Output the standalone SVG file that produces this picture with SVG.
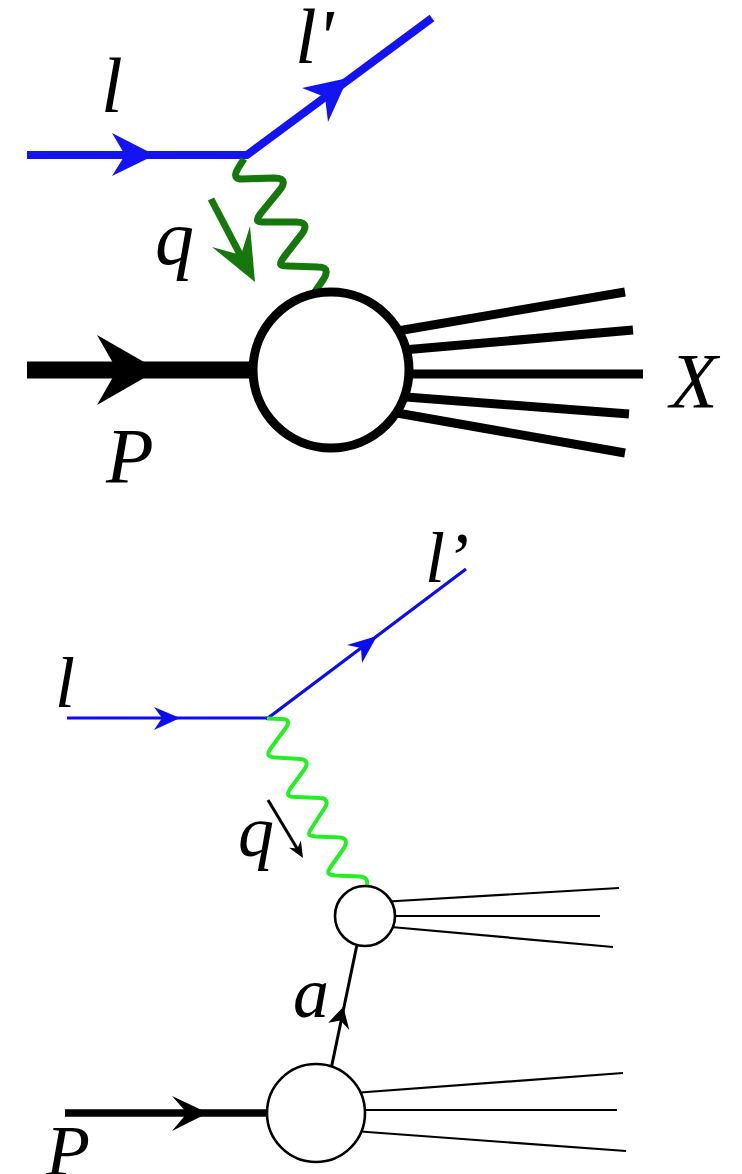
<svg xmlns="http://www.w3.org/2000/svg" width="742" height="1174" viewBox="0 0 742 1174">
<style>
.lbl{font-family:"Liberation Serif","Times New Roman",serif;font-style:italic;fill:#000}
.big{font-size:78px}
.sm{font-size:72px}
.b1{stroke:#1414f2;stroke-width:8;fill:none;stroke-linecap:butt}
.b2{stroke:#0c0cf0;stroke-width:3.2;fill:none}
.bh1{fill:#1414f2}
.bh2{fill:#0c0cf0}
.g1{stroke:#16780c;stroke-width:7;fill:none;stroke-linejoin:round}
.g2{stroke:#22f022;stroke-width:4;fill:none;stroke-linejoin:round}
.k1{stroke:#000;stroke-width:9;fill:none}
.k2{stroke:#000;stroke-width:2.2;fill:none}
.node1{fill:#fff;stroke:#000;stroke-width:9}
.node2{fill:#fff;stroke:#000;stroke-width:2.6}
</style>
<rect width="742" height="1174" fill="#fff"/>
<g id="connectors">
  <!-- top diagram -->
  <line class="b1" x1="27" y1="155" x2="247" y2="155"/>
  <polygon class="bh1" points="155,155 112,133 125,155 112,176"/>
  <polyline class="b1" points="243,155.5 247,155 432,18"/>
  <polygon class="bh1" points="348,78 302,88 325,97 328,122"/>
  <path class="g1" d="M244,159 C239,167 229,179 242,179 L274,178 C287,178 284,185 279,191 L261,213 C254,222 258,222 265,222 L296,222 C308,222 306,229 301,235 L284,257 C278,265 280,266 288,266 L318,267 C329,267 327,274 323,280 L314,293"/>
  <line class="g1" x1="211" y1="199" x2="244" y2="262" stroke-linecap="butt"/>
  <polygon fill="#16780c" points="255,282 212,247 241,255 250,226"/>
  <line stroke="#000" stroke-width="17" x1="27" y1="370" x2="255" y2="370"/>
  <polygon fill="#000" points="158,370 97,335 117,370 97,405"/>
  <line class="k1" x1="380" y1="334" x2="625" y2="292"/>
  <line class="k1" x1="380" y1="352" x2="633" y2="330"/>
  <line class="k1" x1="380" y1="374" x2="643" y2="374"/>
  <line class="k1" x1="380" y1="395" x2="629" y2="414"/>
  <line class="k1" x1="380" y1="410" x2="625" y2="453"/>
  <!-- bottom diagram -->
  <line class="b2" x1="67" y1="718" x2="268" y2="718"/>
  <polygon class="bh2" points="180,718 154,707 162,718 154,730"/>
  <polyline class="b2" points="266,718.5 268,718 466,569"/>
  <polygon class="bh2" points="377,636 347,645 361,648 362,663"/>
  <path class="g2" d="M267,718.5 L282,719 C290,719 289,724 285,729 L271,748 C266,755 268,757 276,757.5 L300,759 C308,759.5 308,765 304,770 L290,789 C286,795 288,797 296,797 L320,798 C328,798 328,804 324,809 L311,829 C307,835 309,836 316,836.5 L340,837.5 C347,838 347,843 344,848 L330,868 C326,874 329,875 336,875.5 L360,876.5 C367,877 368,881 367,887"/>
  <line stroke="#000" stroke-width="3" x1="268" y1="800" x2="298" y2="850"/>
  <polygon fill="#000" points="303,858 289,847.8 297.4,848.5 300.9,840.6"/>
  <line stroke="#000" stroke-width="3" x1="331.7" y1="1066" x2="356.7" y2="946"/>
  <polygon fill="#000" points="343.3,1006.7 328.3,1022.7 340.4,1020.4 349.3,1030"/>
  <line stroke="#000" stroke-width="7.5" x1="65" y1="1113" x2="270" y2="1113"/>
  <polygon fill="#000" points="208,1113 172,1096 187,1113 172,1131"/>
  <line class="k2" x1="380" y1="902" x2="619" y2="888"/>
  <line class="k2" x1="380" y1="916" x2="600" y2="916"/>
  <line class="k2" x1="380" y1="926" x2="613" y2="947"/>
  <line class="k2" x1="340" y1="1094" x2="623" y2="1073"/>
  <line class="k2" x1="340" y1="1110" x2="617" y2="1110"/>
  <line class="k2" x1="340" y1="1130" x2="626" y2="1151"/>
</g>
<g id="blob-top">
  <circle class="node1" cx="331" cy="370" r="78"/>
</g>
<g id="blob-small">
  <circle class="node2" cx="365" cy="916" r="30"/>
</g>
<g id="blob-big">
  <circle class="node2" cx="316" cy="1113" r="49"/>
</g>
<g id="labels">
  <text class="lbl big" x="101" y="112">l</text>
  <text class="lbl big" x="295" y="63">l'</text>
  <text class="lbl big" x="155" y="264">q</text>
  <text class="lbl big" x="106" y="482">P</text>
  <text class="lbl big" x="670" y="407">X</text>
  <text class="lbl sm" x="425" y="582">l’</text>
  <text class="lbl sm" x="55" y="707">l</text>
  <text class="lbl sm" x="238" y="856">q</text>
  <text class="lbl sm" x="293" y="1017">a</text>
  <text class="lbl sm" x="46" y="1175">P</text>
</g>
</svg>
